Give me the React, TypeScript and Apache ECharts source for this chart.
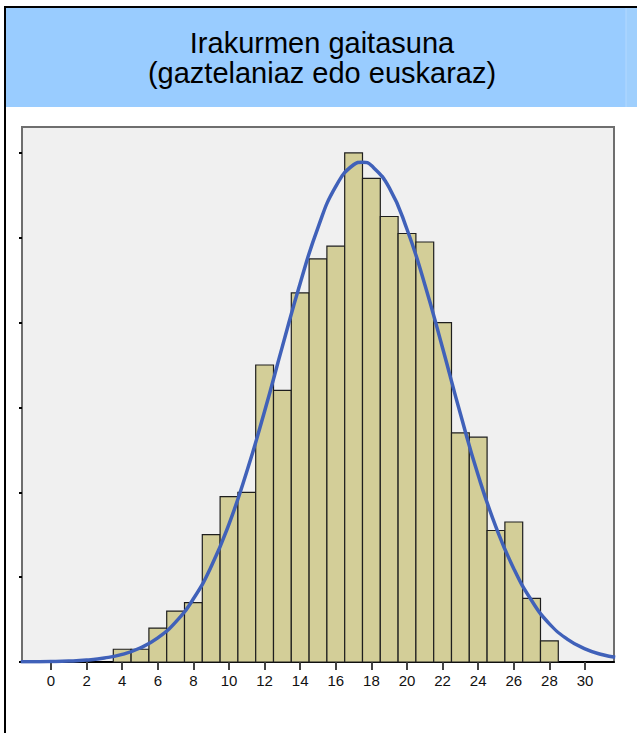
import React, { useEffect, useRef } from "react";
import * as echarts from "echarts";

const titleLines = ["Irakurmen gaitasuna", "(gaztelaniaz edo euskaraz)"];

// Histogram bins (score) and frequencies
const binCenters = [4, 5, 6, 7, 8, 9, 10, 11, 12, 13, 14, 15, 16, 17, 18, 19, 20, 21, 22, 23, 24, 25, 26, 27, 28];
const frequencies = [3, 3, 8, 12, 14, 30, 39, 40, 70, 64, 87, 95, 98, 120, 114, 105, 101, 99, 80, 54, 53, 31, 33, 15, 5];

// Fitted normal curve
const curveX = [-1.7, -1, 0, 1, 2, 3, 4, 5, 6, 7, 8, 9, 10, 11, 12, 13, 14, 15, 16, 17, 17.5, 18, 19, 20, 21, 22, 23, 24, 25, 26, 27, 28, 29, 30, 31, 31.7];
const curveY = [0.03, 0.05, 0.1, 0.22, 0.47, 0.94, 1.8, 3.3, 5.7, 9.4, 14.9, 22.5, 32.5, 44.9, 59.1, 74.4, 89.3, 102.4, 112.1, 117.2, 117.8, 117.0, 111.8, 102, 89, 74, 58.5, 44, 31.8, 22, 14.5, 9.0, 5.4, 3.1, 1.7, 1.1];

// Tick values
const xTicks = [0, 2, 4, 6, 8, 10, 12, 14, 16, 18, 20, 22, 24, 26, 28, 30];
const yTicks = [0, 20, 40, 60, 80, 100, 120];

export default function App() {
  const ref = useRef<HTMLDivElement>(null);

  useEffect(() => {
    if (!ref.current) return;
    const chart = echarts.init(ref.current, null, { renderer: "svg" });
    const barData = binCenters.map((x, i) => [x, frequencies[i]]);
    const lineData = curveX.map((x, i) => [x, curveY[i]]);

    chart.setOption({
      animation: false,
      backgroundColor: "#ffffff",
      graphic: [
        {
          type: "rect",
          z: 0,
          shape: { x: 6, y: 8, width: 631, height: 99 },
          style: { fill: "#99ccff" },
        },
        {
          type: "rect",
          z: 1,
          shape: { x: 626, y: 8, width: 11, height: 99 },
          style: { fill: "#9fcffd" },
        },
        {
          type: "line",
          z: 2,
          shape: { x1: 626, y1: 8, x2: 626, y2: 107 },
          style: { stroke: "#b3d9ff", lineWidth: 1 },
        },
        {
          type: "line",
          z: 3,
          shape: { x1: 4, y1: 7, x2: 637, y2: 7 },
          style: { stroke: "#000000", lineWidth: 2 },
        },
        {
          type: "line",
          z: 3,
          shape: { x1: 5, y1: 6, x2: 5, y2: 733 },
          style: { stroke: "#000000", lineWidth: 2 },
        },
        {
          type: "text",
          z: 4,
          x: 322,
          y: 43,
          style: {
            text: titleLines[0],
            fontFamily: "Liberation Sans, Arial, sans-serif",
            fontSize: 29,
            fill: "#000000",
            align: "center",
            verticalAlign: "middle",
          },
        },
        {
          type: "text",
          z: 4,
          x: 322,
          y: 73,
          style: {
            text: titleLines[1],
            fontFamily: "Liberation Sans, Arial, sans-serif",
            fontSize: 29,
            fill: "#000000",
            align: "center",
            verticalAlign: "middle",
          },
        },
      ],
      grid: {
        left: 22,
        right: 23,
        top: 127,
        bottom: 71,
        show: true,
        backgroundColor: "#f0f0f0",
        borderColor: "#6e6e6e",
        borderWidth: 2,
        containLabel: false,
      },
      xAxis: {
        type: "value",
        min: -1.63,
        max: 31.63,
        axisLine: { show: true, onZero: false, lineStyle: { color: "#000000", width: 2 } },
        axisTick: {
          show: true,
          customValues: xTicks,
          length: 8,
          lineStyle: { color: "#444444", width: 2 },
        },
        axisLabel: {
          show: true,
          customValues: xTicks,
          margin: 11,
          fontSize: 15,
          color: "#111111",
          fontFamily: "Liberation Sans, Arial, sans-serif",
        },
        splitLine: { show: false },
      },
      yAxis: {
        type: "value",
        min: 0,
        max: 126.1,
        axisLine: { show: true, onZero: false, lineStyle: { color: "#6e6e6e", width: 2 } },
        axisTick: {
          show: true,
          customValues: yTicks,
          length: 3,
          lineStyle: { color: "#000000", width: 2 },
        },
        axisLabel: { show: false },
        splitLine: { show: false },
      },
      series: [
        {
          type: "custom",
          z: 2,
          data: barData,
          encode: { x: 0, y: 1 },
          renderItem: (params: any, api: any) => {
            const x = api.value(0);
            const y = api.value(1);
            const p0 = api.coord([x - 0.5, y]);
            const p1 = api.coord([x + 0.5, 0]);
            return {
              type: "rect",
              shape: {
                x: p0[0],
                y: p0[1],
                width: p1[0] - p0[0],
                height: p1[1] - p0[1],
              },
              style: { fill: "#d3ce98", stroke: "#1e1e1e", lineWidth: 1.2 },
            };
          },
        },
        {
          type: "line",
          z: 3,
          data: lineData,
          smooth: true,
          showSymbol: false,
          symbol: "none",
          clip: true,
          lineStyle: { color: "#4061b9", width: 3.5 },
        },
      ],
    });

    return () => chart.dispose();
  }, []);

  return (
    <div
      ref={ref}
      style={{ position: "absolute", left: 0, top: 0, width: 637, height: 733 }}
    />
  );
}
